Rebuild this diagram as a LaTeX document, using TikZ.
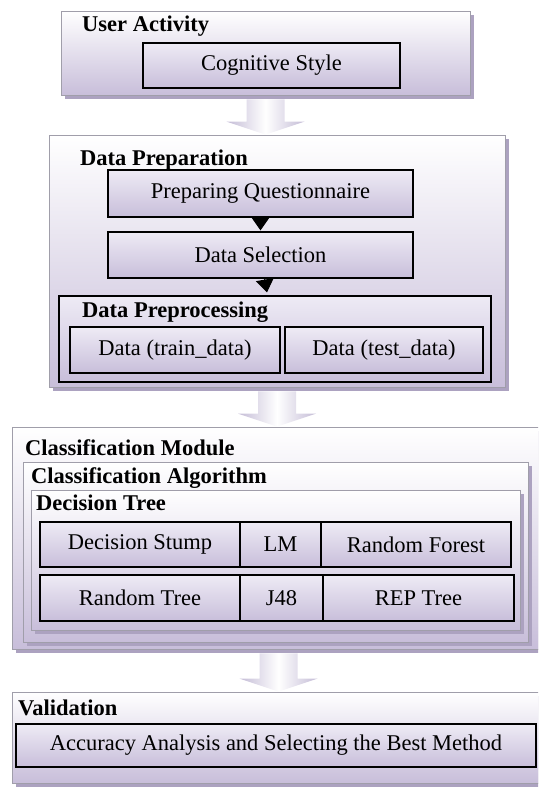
\documentclass[tikz,border=0pt]{standalone}
\usepackage{fontspec}
\setmainfont{Liberation Serif}
\usetikzlibrary{calc,shadows,arrows.meta}

\definecolor{lav}{RGB}{200,190,218}
\definecolor{lavlight}{RGB}{238,235,245}
\definecolor{boxline}{RGB}{160,158,170}
\definecolor{shadowlav}{RGB}{172,162,192}
\definecolor{arrowlav}{RGB}{196,188,214}

\tikzset{
  outerbox/.style={draw=boxline, line width=0.8pt, top color=white, bottom color=lav, inner sep=0pt,
    drop shadow={shadow xshift=4pt, shadow yshift=-4pt, fill=shadowlav, opacity=1}},
  framebox/.style={draw=black, line width=1.2pt, top color=lavlight, bottom color=lav, inner sep=0pt},
  boxtitle/.style={font=\fontsize{22.5}{26}\selectfont\bfseries, anchor=base west, inner sep=0pt},
  flowarrow/.style={left color=arrowlav, right color=arrowlav, middle color=white},
  steparrow/.style={-{Triangle[width=18pt,length=13pt]}, line width=1pt}
}

% block arrow between two boxes
\newcommand{\flowarrow}[2]{%
  \path[flowarrow] let \p1=(#1.south), \p2=(#2.north) in
    (\x1-19pt,\y1-4pt) -- (\x1+19pt,\y1-4pt) -- (\x1+19pt,\y2+13pt) -- (\x1+39pt,\y2+13pt)
    -- (\x1,\y2) -- (\x1-39pt,\y2+13pt) -- (\x1-19pt,\y2+13pt) -- cycle;}

\begin{document}
\begin{tikzpicture}[x=1pt, y=-1pt, font=\fontsize{22.5}{26}\selectfont]

\useasboundingbox (0,0) rectangle (538,792);
\clip (0,0) rectangle (538,792);

% User activity
\node[outerbox, minimum width=409pt, minimum height=84pt] (ua) at (265.5,53) {};
\node[boxtitle] (uatitle) at (82,32) {User Activity};
\node[framebox, minimum width=257pt, minimum height=45pt] (cog) at (271.5,65.5) {Cognitive Style};

% Data preparation
\node[outerbox, minimum width=456pt, minimum height=252pt] (dp) at (277,261) {};
\node[boxtitle] (dptitle) at (80,165) {Data Preparation};
\node[framebox, minimum width=305pt, minimum height=47pt] (pq) at (260.5,193.5) {Preparing Questionnaire};
\node[framebox, minimum width=305pt, minimum height=46pt] (ds) at (260.5,255) {Data Selection};
\node[framebox, minimum width=432pt, minimum height=86pt] (dpp) at (275,339) {};
\node[boxtitle] (dpptitle) at (82,317) {Data Preprocessing};
\node[framebox, minimum width=210pt, minimum height=46pt] (train) at (175,350) {Data (train\_data)};
\node[framebox, minimum width=198pt, minimum height=46pt] (test) at (384,350) {Data (test\_data)};

\draw[steparrow, shorten >=1pt] (pq) -- (ds);
\draw[steparrow, shorten >=3pt] (ds) -- (dpp);

% Classification module
\node[outerbox, minimum width=533pt, minimum height=222pt] (cm) at (278.5,538) {};
\node[boxtitle] (cmtitle) at (25,455) {Classification Module};
\node[outerbox, minimum width=505pt, minimum height=180pt] (ca) at (275.5,552) {};
\node[boxtitle] (catitle) at (31,483) {Classification Algorithm};
\node[outerbox, minimum width=489pt, minimum height=140pt] (dt) at (275.5,560) {};
\node[boxtitle] (dttitle) at (36,510) {Decision Tree};

\node[framebox, minimum width=200pt, minimum height=45pt] (stump) at (140,544.5) {Decision Stump};
\node[framebox, minimum width=81pt, minimum height=45pt] (lm) at (280.5,544.5) {LM};
\node[framebox, minimum width=190pt, minimum height=45pt] (rf) at (416,544.5) {Random Forest};
\node[framebox, minimum width=200pt, minimum height=46pt] (rtree) at (140,598) {Random Tree};
\node[framebox, minimum width=83pt, minimum height=46pt] (jff) at (281.5,598) {J48};
\node[framebox, minimum width=191pt, minimum height=46pt] (rep) at (418.5,598) {REP Tree};

% Validation
\node[outerbox, minimum width=533pt, minimum height=91pt] (val) at (278.5,737.5) {};
\node[boxtitle] (valtitle) at (18,715) {Validation};
\node[framebox, minimum width=520pt, minimum height=43pt] (acc) at (276,745.5) {Accuracy Analysis and Selecting the Best Method};

% arrows between stages
\flowarrow{ua}{dp}
\flowarrow{dp}{cm}
\flowarrow{cm}{val}

\end{tikzpicture}
\end{document}
